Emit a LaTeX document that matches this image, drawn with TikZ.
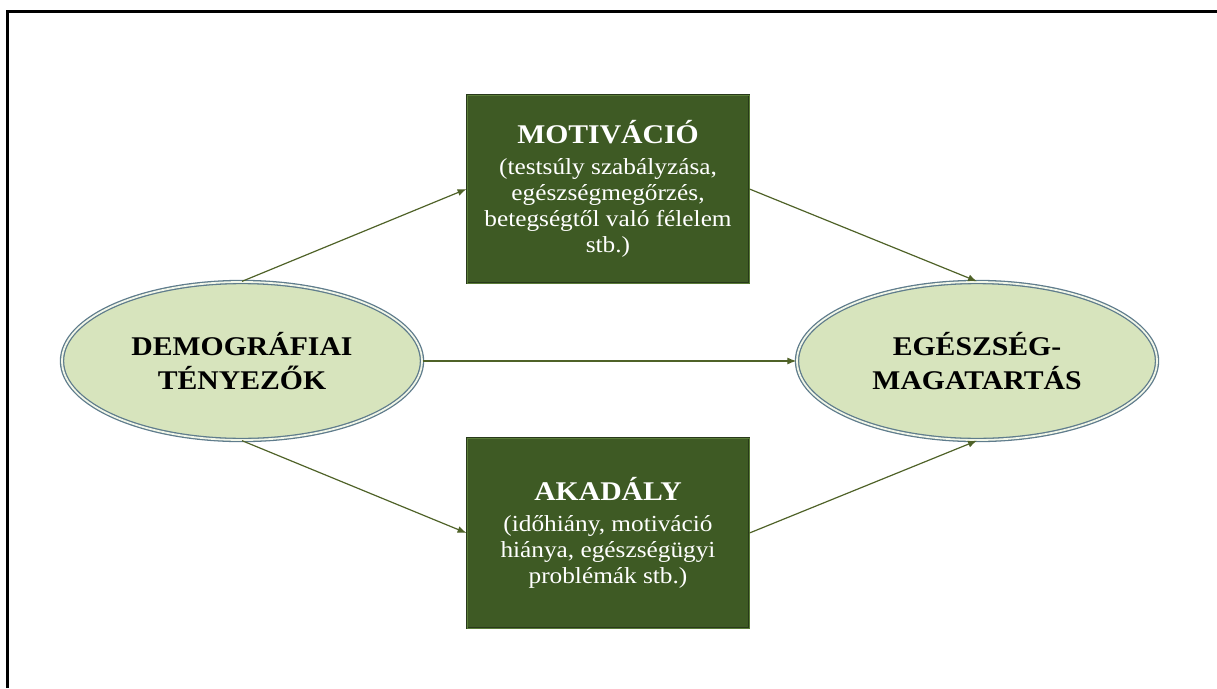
\documentclass[tikz,border=0pt]{standalone}
\usepackage{fontspec}
\setmainfont{Liberation Serif}[FakeStretch=1.1]
\usetikzlibrary{shapes.geometric,arrows.meta}

\definecolor{boxgreen}{HTML}{3E5A24}
\definecolor{boxedge}{HTML}{27391A}
\definecolor{boxlight}{HTML}{5A7C38}
\definecolor{ovalfill}{HTML}{D7E4BD}
\definecolor{ovaledge}{HTML}{5F7C8C}
\definecolor{arrowgreen}{HTML}{4F6228}

\tikzset{
  oval/.style={ellipse, minimum width=360pt, minimum height=158pt, inner sep=0pt,
    fill=ovalfill, draw=ovaledge, line width=1.3pt, double=ovalfill!35!white,
    double distance=1.8pt, align=center, font=\fontsize{27}{34}\selectfont\bfseries},
  factorbox/.style={rectangle, minimum width=282pt, inner sep=0pt,
    fill=boxgreen, draw=boxedge, line width=0.9pt, double=boxlight,
    double distance=0.9pt, text=white, align=center,
    font=\fontsize{23}{26}\selectfont},
  flow/.style={-{Latex[length=9pt,width=7pt]}, draw=arrowgreen, line width=1.2pt},
  frameline/.style={draw=black, line width=3pt}
}

\newcommand{\boxtitle}[1]{{\fontsize{27}{27}\selectfont\bfseries #1}}

\begin{document}
\begin{tikzpicture}[x=1pt, y=-1pt]
  \useasboundingbox (0,0) rectangle (1217,688);

  % outer frame (top and left edges)
  \coordinate (fbl) at (7.5,688);
  \coordinate (ftl) at (7.5,11.5);
  \coordinate (ftr) at (1217,11.5);
  \draw[frameline] (fbl) -- (ftl) -- (ftr);

  % factor ovals
  \node[oval] (demo) at (242,361) {DEMOGRÁFIAI\\TÉNYEZŐK};
  \node[oval] (health) at (977,361) {EGÉSZSÉG-\\MAGATARTÁS};

  % mediating boxes
  \node[factorbox, minimum height=188pt] (motiv) at (608,189)
    {\boxtitle{MOTIVÁCIÓ}\\[5pt]
     (testsúly szabályzása,\\
     egészségmegőrzés,\\
     betegségtől való félelem\\
     stb.)};
  \node[factorbox, minimum height=190pt] (obst) at (608,533)
    {\boxtitle{AKADÁLY}\\[5pt]
     (időhiány, motiváció\\
     hiánya, egészségügyi\\
     problémák stb.)};

  % connections
  \draw[flow] (demo.north) -- (motiv.west);
  \draw[flow] (motiv.east) -- (health.north);
  \draw[flow] (demo.east) -- (health.west);
  \draw[flow] (demo.south) -- (obst.west);
  \draw[flow] (obst.east) -- (health.south);
\end{tikzpicture}
\end{document}
